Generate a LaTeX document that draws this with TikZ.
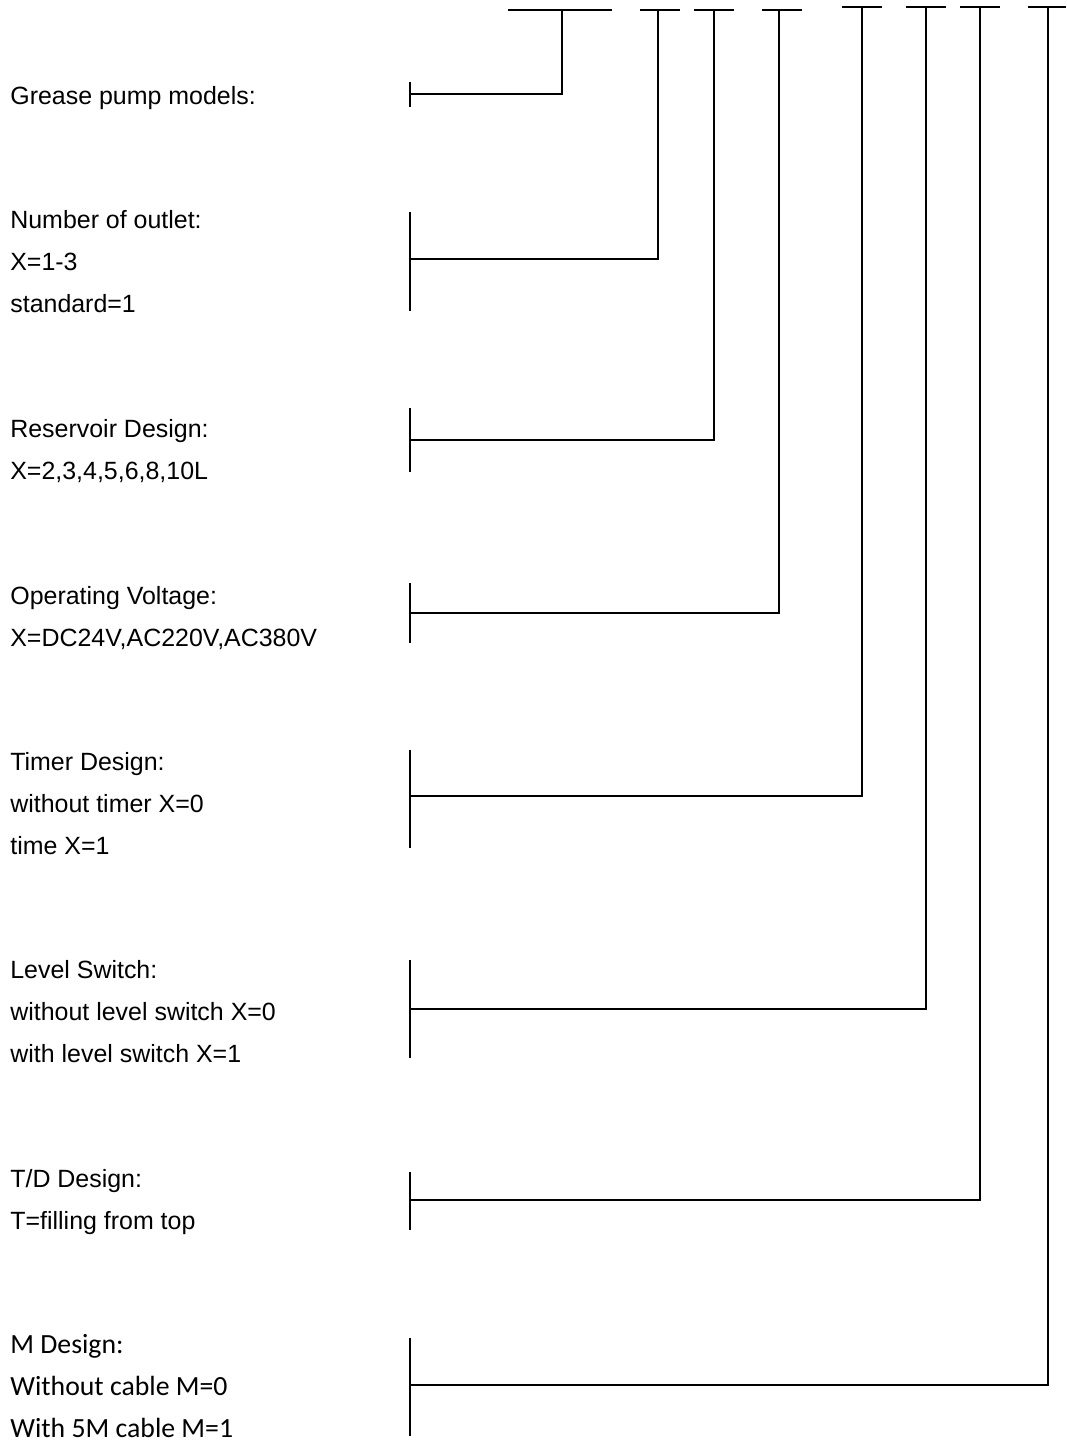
\documentclass[tikz,border=0pt]{standalone}
\usepackage{fontspec}
\setmainfont{Liberation Sans}
\newfontfamily\calfont{Carlito}
\usetikzlibrary{positioning}
\tikzset{
  txt/.style={ anchor=base west, inner sep=0pt, font=\fontsize{14.2}{17}\selectfont }
}
\tikzset{
  txtc/.style={ anchor=base west, inner sep=0pt, font=\calfont\fontsize{15.8}{18}\selectfont }
}
\tikzset{
  ln/.style={ line width=0.85pt }
}

\begin{document}
\begin{tikzpicture}[x=0.02cm, y=-0.02cm]
      \useasboundingbox (0,0) rectangle (1066,1450);

      % texts
      \node[txt] (g1) at (10,104) {Grease pump models:};
      \node[txt] (n1) at (10,228) {Number of outlet:};
      \node[txt] (n2) at (10,270) {X=1-3};
      \node[txt] (n3) at (10,312) {standard=1};
      \node[txt] (r1) at (10,437) {Reservoir Design:};
      \node[txt] (r2) at (10,479) {X=2,3,4,5,6,8,10L};
      \node[txt] (v1) at (10,604) {Operating Voltage:};
      \node[txt] (v2) at (10,646) {X=DC24V,AC220V,AC380V};
      \node[txt] (t1) at (10,770) {Timer Design:};
      \node[txt] (t2) at (10,812) {without timer X=0};
      \node[txt] (t3) at (10,854) {time X=1};
      \node[txt] (l1) at (10,978) {Level Switch:};
      \node[txt] (l2) at (10,1020) {without level switch X=0};
      \node[txt] (l3) at (10,1062) {with level switch X=1};
      \node[txt] (d1) at (10,1187) {T/D Design:};
      \node[txt] (d2) at (10,1229) {T=filling from top};
      \node[txtc] (m1) at (10,1353) {M Design:};
      \node[txtc] (m2) at (10,1395) {Without cable M=0};
      \node[txtc] (m3) at (10,1437) {With 5M cable M=1};

      % code slots on top
      \draw[ln] (508,10) -- (612,10);
      \draw[ln] (640,10) -- (680,10);
      \draw[ln] (694,10) -- (734,10);
      \draw[ln] (762,10) -- (802,10);
      \draw[ln] (842,7) -- (882,7);
      \draw[ln] (906,7) -- (946,7);
      \draw[ln] (960,7) -- (1000,7);
      \draw[ln] (1028,7) -- (1066,7);

      \coordinate (s1) at (562,10);
      \coordinate (s2) at (658,10);
      \coordinate (s3) at (714,10);
      \coordinate (s4) at (779,10);
      \coordinate (s5) at (862,7);
      \coordinate (s6) at (926,7);
      \coordinate (s7) at (980,7);
      \coordinate (s8) at (1048,7);

      % brackets
      \draw[ln] (410,82) -- (410,107);
      \draw[ln] (410,212) -- (410,311);
      \draw[ln] (410,408) -- (410,472);
      \draw[ln] (410,583) -- (410,643);
      \draw[ln] (410,750) -- (410,848);
      \draw[ln] (410,960) -- (410,1058);
      \draw[ln] (410,1172) -- (410,1230);
      \draw[ln] (410,1338) -- (410,1436);

      \coordinate (b1) at (410,94);
      \coordinate (b2) at (410,259);
      \coordinate (b3) at (410,440);
      \coordinate (b4) at (410,613);
      \coordinate (b5) at (410,796);
      \coordinate (b6) at (410,1009);
      \coordinate (b7) at (410,1200);
      \coordinate (b8) at (410,1385);

      % leaders
      \draw[ln] (s1) |- (b1);
      \draw[ln] (s2) |- (b2);
      \draw[ln] (s3) |- (b3);
      \draw[ln] (s4) |- (b4);
      \draw[ln] (s5) |- (b5);
      \draw[ln] (s6) |- (b6);
      \draw[ln] (s7) |- (b7);
      \draw[ln] (s8) |- (b8);
    \end{tikzpicture}
\end{document}
